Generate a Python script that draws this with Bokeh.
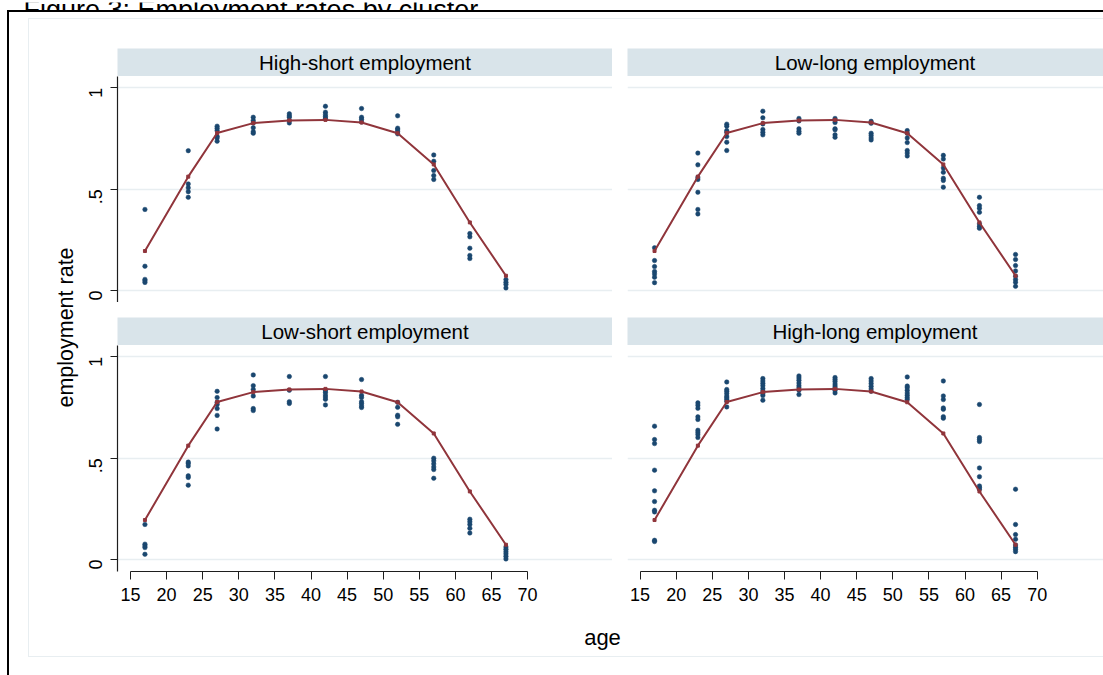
import math

from bokeh.core.validation import silence
from bokeh.core.validation.warnings import MISSING_RENDERERS
from bokeh.embed import file_html
from bokeh.layouts import column, row
from bokeh.models import CustomJSTickFormatter, Div, FixedTicker, Label, Range1d, Spacer
from bokeh.plotting import figure
from bokeh.resources import INLINE

silence(MISSING_RENDERERS, True)

# ---------------------------------------------------------------- data
ages = [17, 23, 27, 32, 37, 42, 47, 52, 57, 62, 67]

# fitted age profile, identical in every panel
fitted = [0.195, 0.562, 0.777, 0.826, 0.839, 0.842, 0.829, 0.776, 0.622, 0.336, 0.073]

# observed regional employment rates, one list per age group
high_short = [
    [0.40, 0.12, 0.055, 0.048, 0.04],
    [0.69, 0.526, 0.507, 0.488, 0.46],
    [0.811, 0.801, 0.789, 0.761, 0.753, 0.737],
    [0.855, 0.839, 0.827, 0.803, 0.784, 0.776],
    [0.872, 0.862, 0.855, 0.839, 0.827],
    [0.909, 0.880, 0.867, 0.858, 0.850],
    [0.898, 0.855, 0.845, 0.832],
    [0.862, 0.801, 0.793, 0.784, 0.773],
    [0.669, 0.638, 0.592, 0.567, 0.548],
    [0.281, 0.265, 0.209, 0.173, 0.158],
    [0.054, 0.041, 0.030, 0.013],
]

low_long = [
    [0.211, 0.148, 0.118, 0.094, 0.082, 0.066, 0.039],
    [0.678, 0.620, 0.559, 0.548, 0.485, 0.400, 0.378],
    [0.821, 0.811, 0.789, 0.781, 0.760, 0.732, 0.691],
    [0.885, 0.852, 0.822, 0.794, 0.781, 0.768],
    [0.849, 0.837, 0.798, 0.786, 0.776],
    [0.849, 0.839, 0.829, 0.798, 0.793, 0.768, 0.756],
    [0.835, 0.825, 0.776, 0.765, 0.753, 0.743],
    [0.789, 0.776, 0.753, 0.730, 0.691, 0.678, 0.664],
    [0.667, 0.649, 0.605, 0.583, 0.554, 0.543, 0.510],
    [0.460, 0.419, 0.406, 0.386, 0.329, 0.317, 0.307],
    [0.178, 0.153, 0.123, 0.097, 0.071, 0.054, 0.041, 0.021],
]

low_short = [
    [0.173, 0.076, 0.067, 0.059, 0.026],
    [0.481, 0.474, 0.462, 0.413, 0.405, 0.367],
    [0.830, 0.799, 0.776, 0.765, 0.745, 0.711, 0.644],
    [0.911, 0.858, 0.839, 0.807, 0.745, 0.735],
    [0.903, 0.835, 0.779, 0.770],
    [0.903, 0.835, 0.825, 0.812, 0.802, 0.791, 0.763],
    [0.888, 0.811, 0.799, 0.778, 0.770, 0.758, 0.750],
    [0.776, 0.751, 0.712, 0.704, 0.667],
    [0.500, 0.487, 0.472, 0.457, 0.444, 0.401],
    [0.199, 0.186, 0.173, 0.154, 0.131],
    [0.062, 0.051, 0.039, 0.028, 0.016, 0.003],
]

high_long = [
    [0.658, 0.592, 0.572, 0.441, 0.339, 0.286, 0.243, 0.235, 0.095, 0.089],
    [0.773, 0.761, 0.746, 0.704, 0.691, 0.638, 0.628, 0.617, 0.602],
    [0.876, 0.839, 0.830, 0.819, 0.807, 0.799, 0.791, 0.781, 0.753],
    [0.893, 0.881, 0.870, 0.858, 0.844, 0.832, 0.819, 0.809, 0.786],
    [0.906, 0.896, 0.885, 0.871, 0.858, 0.847, 0.835, 0.814],
    [0.898, 0.888, 0.878, 0.866, 0.856, 0.847, 0.835, 0.822],
    [0.893, 0.881, 0.868, 0.855, 0.842, 0.830],
    [0.901, 0.856, 0.848, 0.835, 0.822, 0.811, 0.799, 0.789],
    [0.881, 0.807, 0.789, 0.748, 0.741, 0.705, 0.697],
    [0.765, 0.602, 0.592, 0.582, 0.452, 0.409, 0.363, 0.355, 0.347],
    [0.347, 0.173, 0.123, 0.100, 0.072, 0.061, 0.051, 0.039],
]

panel_titles = ["High-short employment", "Low-long employment",
                "Low-short employment", "High-long employment"]
x_ticks = [15, 20, 25, 30, 35, 40, 45, 50, 55, 60, 65, 70]
y_ticks = [0, 0.5, 1]

# ---------------------------------------------------------------- style
FONT = "Liberation Sans"
DOT = "#1a476f"
FIT = "#90353b"
GRID = "#e8eef1"
STRIP = "#d9e4ea"
AXIS = "#1e1e1e"

Y_RANGE = (-0.059, 1.056)
PX_PER_YEAR = 7.22
Y_AXIS_W = 38          # room for the y axis left of the plot frame


def text_box(w, h, text, x, y, size, angle=0.0, bg="white",
             align="center", baseline="middle"):
    f = figure(width=w, height=h, x_range=Range1d(0, 1), y_range=Range1d(0, 1),
               toolbar_location=None, output_backend="svg",
               x_axis_location=None, y_axis_location=None, min_border=0,
               outline_line_color=None, background_fill_color=bg,
               border_fill_color=bg)
    f.xgrid.visible = False
    f.ygrid.visible = False
    f.add_layout(Label(x=x, y=y, x_units="screen", y_units="screen", text=text,
                       text_font=FONT, text_font_size=f"{size}px",
                       text_color="black", text_align=align,
                       text_baseline=baseline, angle=angle))
    return f


def bar(w, h, color):
    return Div(width=w, height=h, margin=0, styles={"background-color": color})


def gap(w, h):
    return Spacer(width=w, height=h, margin=0)


def panel(obs, width, height, first_tick_px, left_axis, bottom_axis):
    left = Y_AXIS_W if left_axis else 0
    x0 = 15 - first_tick_px / PX_PER_YEAR
    x1 = x0 + (width - left) / PX_PER_YEAR
    p = figure(width=width, height=height,
               x_range=Range1d(x0, x1), y_range=Range1d(*Y_RANGE),
               toolbar_location=None, output_backend="svg",
               x_axis_location="below" if bottom_axis else None,
               y_axis_location="left" if left_axis else None,
               min_border_left=left, min_border_right=0,
               min_border_top=0, min_border_bottom=40 if bottom_axis else 0,
               outline_line_color=None, background_fill_color="white",
               border_fill_color="white")
    p.xgrid.visible = False
    p.ygrid.ticker = FixedTicker(ticks=y_ticks)
    p.ygrid.grid_line_color = GRID
    p.ygrid.grid_line_width = 1.5

    if left_axis:
        ax = p.yaxis[0]
        ax.ticker = FixedTicker(ticks=y_ticks)
        ax.formatter = CustomJSTickFormatter(
            code="return tick.toString().replace(/^0\\./, '.');")
        ax.major_label_orientation = math.pi / 2
        ax.major_label_text_font = FONT
        ax.major_label_text_font_size = "18px"
        ax.major_label_text_color = "black"
        ax.major_label_standoff = 15
        ax.major_tick_out = 7
        ax.major_tick_in = 0
        ax.minor_tick_line_color = None
        ax.axis_line_color = AXIS
        ax.major_tick_line_color = AXIS
        ax.axis_line_width = 1.2

    if bottom_axis:
        ax = p.xaxis[0]
        ax.ticker = FixedTicker(ticks=x_ticks)
        ax.bounds = (15, 70)
        ax.major_label_text_font = FONT
        ax.major_label_text_font_size = "18px"
        ax.major_label_text_color = "black"
        ax.major_label_standoff = 8
        ax.major_tick_out = 8
        ax.major_tick_in = 0
        ax.minor_tick_line_color = None
        ax.axis_line_color = AXIS
        ax.major_tick_line_color = AXIS
        ax.axis_line_width = 1.2

    xs = [a for a, vals in zip(ages, obs) for _ in vals]
    ys = [v for vals in obs for v in vals]
    p.scatter(xs, ys, size=4.5, fill_color=DOT, line_color=DOT, line_width=0.5)
    p.line(ages, fitted, line_color=FIT, line_width=2)
    p.scatter(ages, fitted, marker="square", size=3, fill_color=FIT, line_color=FIT)
    return p


# ---------------------------------------------------------------- panels
LEFT_W, RIGHT_W = 533, 476
TOP_H, BOT_H = 226, 266
STRIP_W = LEFT_W - Y_AXIS_W

tl = panel(high_short, LEFT_W, TOP_H, 13, True, False)
tr = panel(low_long, RIGHT_W, TOP_H, 12.6, False, False)
bl = panel(low_short, LEFT_W, BOT_H, 13, True, True)
br = panel(high_long, RIGHT_W, BOT_H, 12.6, False, True)

strip_tl = text_box(STRIP_W, 28, panel_titles[0], STRIP_W / 2, 14, 20.5, bg=STRIP)
strip_tr = text_box(RIGHT_W, 28, panel_titles[1], 247.5, 14, 20.5, bg=STRIP)
strip_bl = text_box(STRIP_W, 28, panel_titles[2], STRIP_W / 2, 14, 20.5, bg=STRIP)
strip_br = text_box(RIGHT_W, 28, panel_titles[3], 247.5, 14, 20.5, bg=STRIP)

left_col = column(
    gap(LEFT_W, 29),
    row(gap(Y_AXIS_W, 28), strip_tl),
    tl,
    gap(LEFT_W, 15),
    row(gap(Y_AXIS_W, 28), strip_bl),
    bl,
)
right_col = column(
    gap(RIGHT_W, 29),
    strip_tr,
    tr,
    gap(RIGHT_W, 15),
    strip_br,
    br,
)

ylab = text_box(50, 592, "employment rate", 36, 284, 21.5, angle=math.pi / 2)
xlab = text_box(1074, 45, "age", 573, 19, 22, baseline="alphabetic")

main = column(
    row(ylab, left_col, gap(15, 592), right_col),
    xlab,
)
body = column(bar(1074, 1, GRID), main, bar(1074, 1, GRID))
content = column(
    gap(1094, 6),
    row(gap(19, 639), bar(1, 639, GRID), body),
)
framed = row(
    gap(7, 665),
    bar(2, 665, "black"),
    column(bar(1094, 2, "black"), content),
)

title = text_box(1103, 10, "Figure 3: Employment rates by cluster", 23, 3, 27,
                 align="left", baseline="alphabetic")

page = column(title, framed)

open("out.html", "w").write(file_html(page, INLINE))
